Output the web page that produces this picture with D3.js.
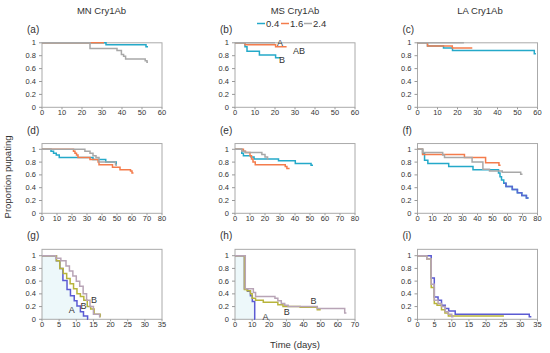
<!DOCTYPE html>
<html>
<head>
<meta charset="utf-8">
<script src="https://cdn.jsdelivr.net/npm/d3@7"></script>
<style>
  body { margin: 0; background: #fff; }
  text { font-family: "Liberation Sans", Arial, sans-serif; fill: #333; }
</style>
</head>
<body>
<svg id="chart" width="550" height="353"></svg>
<script>
// column titles, doses, panel letters
const groups = ["MN Cry1Ab", "MS Cry1Ab", "LA Cry1Ab"];
const doses = ["0.4", "1.6", "2.4"];
const panelLetters = ["(a)", "(b)", "(c)", "(d)", "(e)", "(f)", "(g)", "(h)", "(i)"];
const xMaxes = [60, 60, 60, 80, 80, 80, 35, 70, 35];
const xSteps = [10, 10, 10, 10, 10, 10, 5, 10, 5];
const yTicks = [0, 0.2, 0.4, 0.6, 0.8, 1];

// survival steps: [day, proportion]
const aBlue = [[0, 1], [32, 0.97], [52, 0.94], [53, 0.94]];
const aOrange = [[0, 1], [31, 1]];
const aGray = [[0, 1], [24, 0.91], [37.5, 0.88], [39.7, 0.82], [40.8, 0.79], [41.8, 0.75], [51.6, 0.72], [52.5, 0.70], [53, 0.70]];

const bBlue = [[0, 1], [5, 0.94], [6, 0.87], [12.2, 0.81], [20.3, 0.77], [22.5, 0.77]];
const bOrange = [[0, 1], [5, 0.97], [20.3, 0.94], [25.8, 0.94]];
const bGray = [[0, 1], [20, 1]];

const cBlue = [[0, 1], [5, 0.95], [13, 0.92], [17.5, 0.88], [58.4, 0.83], [59.2, 0.83]];
const cOrange = [[0, 1], [5, 0.95], [17.4, 0.92], [27.4, 0.92]];
const cGray = [[0, 1], [23.2, 1]];

const dBlue = [[0, 1], [6, 0.97], [7.7, 0.94], [9.5, 0.91], [11.5, 0.87], [34, 0.84], [42.5, 0.80], [49.5, 0.76], [50, 0.76]];
const dOrange = [[0, 1], [21, 0.97], [22, 0.94], [23, 0.91], [24, 0.87], [32, 0.84], [37.4, 0.80], [38, 0.76], [47, 0.72], [52, 0.68], [59, 0.66], [60, 0.63], [61, 0.63]];
const dGray = [[0, 1], [28.6, 0.97], [32, 0.94], [34, 0.90], [36, 0.87], [38, 0.80], [49, 0.76], [50, 0.76]];

const eBlue = [[0, 1], [4.5, 0.94], [5.6, 0.90], [10.7, 0.88], [12.7, 0.85], [29, 0.82], [40.2, 0.78], [50.7, 0.75], [52, 0.75]];
const eOrange = [[0, 1], [5.6, 0.97], [7, 0.95], [10, 0.90], [11, 0.85], [12, 0.80], [13.5, 0.76], [33.5, 0.73], [34.6, 0.70], [36.4, 0.70]];
const eGray = [[0, 1], [4.5, 0.97], [6.7, 0.95], [17.9, 0.92], [20, 0.88], [21.7, 0.85], [22.3, 0.85]];

const fBlue = [[0, 1], [3.4, 0.93], [4.7, 0.83], [6.9, 0.78], [20.8, 0.73], [37, 0.68], [54, 0.63], [55, 0.57], [56, 0.52], [57.5, 0.47], [59, 0.42], [63.2, 0.37], [66.6, 0.32], [69.5, 0.28], [72.6, 0.24], [74, 0.24]];
const fOrange = [[0, 1], [3.4, 0.92], [31.3, 0.87], [45.4, 0.79], [54.3, 0.75], [55.4, 0.75]];
const fGray = [[0, 1], [3.4, 0.95], [16.8, 0.91], [18, 0.87], [36.4, 0.80], [43.6, 0.69], [48, 0.66], [56.5, 0.64], [68.8, 0.61], [70, 0.61]];

const gBlue = [[0, 1], [4.2, 0.92], [5.2, 0.80], [6.1, 0.61], [7.3, 0.47], [8.3, 0.37], [9.4, 0.29], [10.2, 0.21], [11.2, 0.12], [12.1, 0.05], [13.3, 0], [13.4, 0]];
const gOlive = [[0, 1], [4.2, 0.92], [5.2, 0.80], [6.2, 0.72], [7.2, 0.64], [8.2, 0.56], [9.2, 0.48], [10.2, 0.40], [11.2, 0.36], [12.2, 0.30], [13.2, 0.20], [14.2, 0.16], [15.2, 0.08], [17, 0.04], [17.1, 0.04]];
const gGray = [[0, 1], [4, 0.96], [5.5, 0.92], [7, 0.84], [8, 0.76], [9, 0.68], [10, 0.60], [11, 0.52], [12, 0.40], [13, 0.30], [14, 0.20], [15, 0.08], [16.8, 0.04], [17, 0.04]];

const hBlue = [[0, 1], [5.5, 0.48], [7.4, 0.44], [9, 0.37], [10.1, 0.28], [11.5, 0], [11.6, 0]];
const hOlive = [[0, 1], [5.5, 0.47], [7, 0.45], [9, 0.40], [10, 0.33], [12, 0.30], [16.5, 0.27], [25, 0.23], [28, 0.20], [38, 0.19], [48, 0.15], [50, 0.15]];
const hGray = [[0, 1], [6, 0.48], [10.7, 0.42], [12, 0.36], [23.3, 0.33], [25, 0.29], [27, 0.25], [29, 0.22], [31, 0.20], [48, 0.17], [64, 0.10], [65, 0.10]];

const iBlue = [[0, 1], [4, 0.65], [4.9, 0.35], [6, 0.30], [7, 0.22], [8.1, 0.17], [9.1, 0.13], [11, 0.08], [32.6, 0.04], [33.2, 0.04]];
const iOlive = [[0, 1], [2.7, 0.95], [4, 0.50], [4.9, 0.25], [5.7, 0.22], [7, 0.15], [8, 0.10], [9, 0.05], [25.2, 0.05]];
const iGray = [[0, 1], [2.7, 0.95], [4, 0.55], [4.9, 0.30], [6, 0.25], [7, 0.20], [8.1, 0.12], [9, 0.08], [10, 0.04], [10.5, 0.04]];

// letters of significance
const bLetters = [["A", 21, 1.0], ["AB", 29, 0.88], ["B", 22, 0.74]];
const gLetters = [["A", 7.8, 0.15], ["B", 11.2, 0.21], ["B", 14.3, 0.30]];
const hLetters = [["A", 16, 0.04], ["B", 28.5, 0.12], ["B", 44, 0.29]];

const topColors = ["#24a9c9", "#f47c4c", "#a8a8a8"];
const bottomColors = ["#5b5bd3", "#b8b43c", "#b8a4b6"];

const panels = [
  [aBlue, aOrange, aGray], [bBlue, bOrange, bGray], [cBlue, cOrange, cGray],
  [dBlue, dOrange, dGray], [eBlue, eOrange, eGray], [fBlue, fOrange, fGray],
  [gBlue, gOlive, gGray], [hBlue, hOlive, hGray], [iBlue, iOlive, iGray]
];
const panelText = {1: bLetters, 6: gLetters, 7: hLetters};

const svg = d3.select("#chart");
const colX = [42, 235, 417.5];
const plotW = 120;
const rowBottom = [107.3, 213.3, 319.3];
const rowUnit = [64.5, 64, 63.6];
const rowTop = [1, 1.09, 1.1];

panels.forEach((series, i) => {
  const row = Math.floor(i / 3), col = i % 3;
  const x = d3.scaleLinear().domain([0, xMaxes[i]]).range([colX[col], colX[col] + plotW]);
  const y = d3.scaleLinear().domain([0, 1]).range([rowBottom[row], rowBottom[row] - rowUnit[row]]);
  const g = svg.append("g");
  const colors = row === 2 ? bottomColors : topColors;

  // faint shading under the low-dose curve in the bottom row
  if (i === 6 || i === 7) {
    g.append("path")
      .datum(series[0])
      .attr("fill", "#edf8fa")
      .attr("d", d3.area().curve(d3.curveStepAfter)
        .x(d => x(d[0])).y0(y(0)).y1(d => y(d[1])));
  }

  // box
  const top = y(rowTop[row]);
  g.append("rect")
    .attr("x", x(0)).attr("y", top)
    .attr("width", x(xMaxes[i]) - x(0)).attr("height", y(0) - top)
    .attr("fill", "none").attr("stroke", "#aaa").attr("stroke-width", 1);

  // y ticks
  yTicks.forEach(t => {
    g.append("line").attr("x1", x(0) - 3).attr("x2", x(0))
      .attr("y1", y(t)).attr("y2", y(t)).attr("stroke", "#999");
    g.append("text").attr("x", x(0) - 6).attr("y", y(t)).attr("dy", "0.33em")
      .attr("text-anchor", "end").attr("font-size", 7.5).text(d3.format("~g")(t));
  });

  // x ticks
  d3.range(0, xMaxes[i] + 0.1, xSteps[i]).forEach(t => {
    g.append("line").attr("x1", x(t)).attr("x2", x(t))
      .attr("y1", y(0)).attr("y2", y(0) + 2).attr("stroke", "#999");
    g.append("text").attr("x", x(t)).attr("y", y(0) + 8)
      .attr("text-anchor", "middle").attr("font-size", 7.5).text(t);
  });

  const line = d3.line().curve(d3.curveStepAfter).x(d => x(d[0])).y(d => y(d[1]));
  series.forEach((s, k) => {
    g.append("path").datum(s)
      .attr("fill", "none").attr("stroke", colors[k]).attr("stroke-width", 1.5)
      .attr("d", line);
  });

  // in (f) the tail of the 0.4 curve is drawn in a bluer tone
  if (i === 5) {
    g.append("path").datum(series[0].filter(d => d[0] >= 57.5))
      .attr("fill", "none").attr("stroke", "#5a68d2").attr("stroke-width", 1.5)
      .attr("d", line);
  }

  (panelText[i] || []).forEach(([lab, tx, ty]) => {
    g.append("text").attr("x", x(tx)).attr("y", y(ty)).attr("dy", "0.35em")
      .attr("font-size", 9).text(lab);
  });

  g.append("text").attr("x", x(0) - 15).attr("y", top - 10)
    .attr("font-size", 10).text(panelLetters[i]);
});

// column titles
const titleX = [101.5, 295, 480];
groups.forEach((t, c) => {
  svg.append("text").attr("x", titleX[c]).attr("y", 13.5)
    .attr("text-anchor", "middle").attr("font-size", 9.5).text(t);
});

// legend
const legX = [257, 281, 304];
doses.forEach((d, k) => {
  svg.append("line").attr("x1", legX[k]).attr("x2", legX[k] + 8)
    .attr("y1", 23.5).attr("y2", 23.5).attr("stroke", topColors[k]).attr("stroke-width", 1.5);
  svg.append("text").attr("x", legX[k] + 9).attr("y", 27)
    .attr("font-size", 9.5).text(d);
});

// axis titles
svg.append("text").attr("transform", "translate(11,177) rotate(-90)")
  .attr("text-anchor", "middle").attr("font-size", 9.5).text("Proportion pupating");
svg.append("text").attr("x", 295).attr("y", 348)
  .attr("text-anchor", "middle").attr("font-size", 9.5).text("Time (days)");
</script>
</body>
</html>
